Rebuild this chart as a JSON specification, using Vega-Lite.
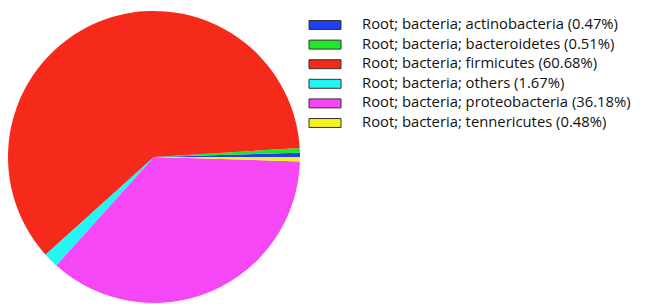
{
  "$schema": "https://vega.github.io/schema/vega-lite/v6.json",
  "width": 308,
  "height": 314,
  "autosize": {"type": "none"},
  "padding": {"left": 0, "top": 0, "right": 339, "bottom": 0},
  "background": "white",
  "view": {"stroke": null},
  "data": {
    "values": [
      {"taxon": "Root; bacteria; actinobacteria (0.47%)", "pct": 0.47},
      {"taxon": "Root; bacteria; bacteroidetes (0.51%)", "pct": 0.51},
      {"taxon": "Root; bacteria; firmicutes (60.68%)", "pct": 60.68},
      {"taxon": "Root; bacteria; others (1.67%)", "pct": 1.67},
      {"taxon": "Root; bacteria; proteobacteria (36.18%)", "pct": 36.18},
      {"taxon": "Root; bacteria; tennericutes (0.48%)", "pct": 0.48}
    ]
  },
  "mark": {"type": "arc", "outerRadius": 146},
  "encoding": {
    "theta": {
      "field": "pct",
      "type": "quantitative",
      "stack": true,
      "scale": {"range": [1.5708, -4.7124]}
    },
    "order": {"field": "taxon", "sort": "ascending"},
    "color": {
      "field": "taxon",
      "type": "nominal",
      "sort": null,
      "scale": {
        "domain": [
          "Root; bacteria; actinobacteria (0.47%)",
          "Root; bacteria; bacteroidetes (0.51%)",
          "Root; bacteria; firmicutes (60.68%)",
          "Root; bacteria; others (1.67%)",
          "Root; bacteria; proteobacteria (36.18%)",
          "Root; bacteria; tennericutes (0.48%)"
        ],
        "range": ["#1f3ff0", "#1ee82a", "#f52a1a", "#22f5f2", "#f547f5", "#f5f020"]
      },
      "legend": {
        "title": null,
        "orient": "none",
        "legendX": 316.5,
        "legendY": 16.5,
        "symbolType": "M-2,-0.56H2V0.56H-2Z",
        "symbolSize": 256,
        "symbolStrokeColor": "#333333",
        "symbolStrokeWidth": 1,
        "symbolOpacity": 1,
        "labelFont": "Open Sans",
        "labelFontSize": 14.8,
        "labelColor": "#111111",
        "labelOffset": 28.5,
        "labelLimit": 400,
        "rowPadding": 3.6
      }
    }
  }
}
